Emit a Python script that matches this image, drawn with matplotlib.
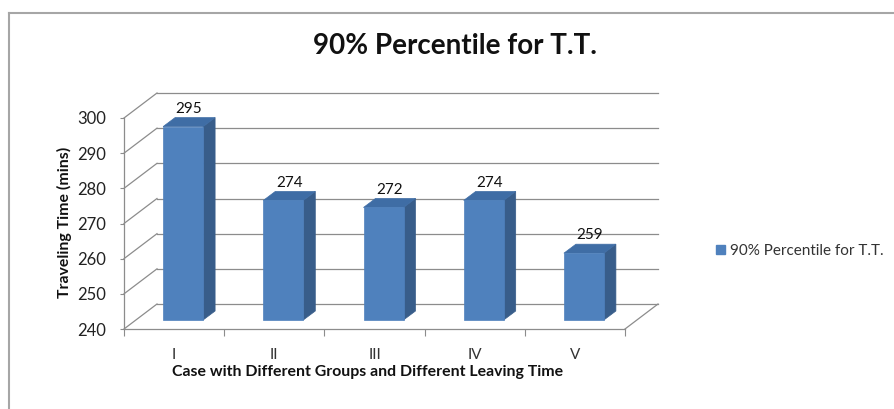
import matplotlib.pyplot as plt
from matplotlib.patches import Polygon, Patch
from matplotlib.lines import Line2D

plt.rcParams['font.family'] = ['Lato', 'DejaVu Sans']

# Chart data
cases = ['I', 'II', 'III', 'IV', 'V']
pct90 = [295, 274, 272, 274, 259]
series_name = '90% Percentile for T.T.'
y_ticks = [240, 250, 260, 270, 280, 290, 300]

W, H = 894, 409
fig = plt.figure(figsize=(W / 100, H / 100), dpi=100)

# front plane of the plot area in pixels (left, top, right, bottom)
L, T, R, B = 124, 118, 625, 329
ax = fig.add_axes([L / W, (H - B) / H, (R - L) / W, (B - T) / H])
ymin, ymax = 240, 300
ax.set_xlim(0, len(cases))
ax.set_ylim(ymin, ymax)

# pixel -> data unit helpers for the fake depth
px_x = len(cases) / (R - L)
px_y = (ymax - ymin) / (B - T)

grid_c = '#8c8c8c'
wall_dx, wall_dy = 33 * px_x, 25 * px_y

# back wall gridlines and the diagonal side lines
for v in y_ticks:
    ax.add_line(Line2D([0, wall_dx], [v, v + wall_dy], color=grid_c, lw=0.9, clip_on=False))
    ax.add_line(Line2D([wall_dx, len(cases) + wall_dx], [v + wall_dy, v + wall_dy],
                       color=grid_c, lw=0.9, clip_on=False))
# floor right edge
ax.add_line(Line2D([len(cases), len(cases) + wall_dx], [ymin, ymin + wall_dy],
                   color=grid_c, lw=0.9, clip_on=False))

# 3D-looking bars
off_x, off_y = 9 * px_x, 9 * px_y
dep_x, dep_y = 12 * px_x, 9 * px_y
bw = 40 * px_x
front_c, side_c, top_c = '#4F81BD', '#385D8A', '#3F6DA5'
for i, v in enumerate(pct90):
    x0 = i + 0.5 - bw / 2 + off_x
    x1 = x0 + bw
    y0 = ymin + off_y
    front = [(x0, y0), (x1, y0), (x1, v + off_y), (x0, v + off_y)]
    side = [(x1, y0), (x1 + dep_x, y0 + dep_y), (x1 + dep_x, v + off_y + dep_y), (x1, v + off_y)]
    top = [(x0, v + off_y), (x1, v + off_y), (x1 + dep_x, v + off_y + dep_y), (x0 + dep_x, v + off_y + dep_y)]
    for pts, c in ((side, side_c), (top, top_c), (front, front_c)):
        ax.add_patch(Polygon(pts, closed=True, facecolor=c, edgecolor=c, lw=0.5,
                             clip_on=False, zorder=3))
    ax.text((x0 + x1 + dep_x) / 2, v + off_y + dep_y + 0.5, str(v), ha='center', va='bottom',
            fontsize=11, color='#111111', zorder=4)

# axes styling
for s in ('top', 'right'):
    ax.spines[s].set_visible(False)
for s in ('left', 'bottom'):
    ax.spines[s].set_color(grid_c)
    ax.spines[s].set_linewidth(0.9)
ax.set_facecolor('none')
ax.set_yticks(y_ticks)
ax.set_yticklabels([str(t) for t in y_ticks], fontsize=12, color='#222222')
ax.tick_params(axis='y', length=3, color=grid_c, pad=10)
ax.set_xticks(range(len(cases) + 1))
ax.set_xticklabels([])
ax.set_xticks([i + 0.5 for i in range(len(cases))], minor=True)
ax.set_xticklabels(cases, minor=True, fontsize=11, color='#333333')
ax.tick_params(axis='x', which='major', length=5, color=grid_c)
ax.tick_params(axis='x', which='minor', length=0, pad=14)

# titles
fig.text(455 / W, 1 - 46 / H, '90% Percentile for T.T.', ha='center', va='center',
         fontsize=20, fontweight='bold', color='#111111')
fig.text(368 / W, 1 - 372 / H, 'Case with Different Groups and Different Leaving Time',
         ha='center', va='center', fontsize=11.4, fontweight='bold', color='#111111')
fig.text(64 / W, 1 - 222 / H, 'Traveling Time (mins)', ha='center', va='center',
         rotation=90, fontsize=11.4, fontweight='bold', color='#111111')

# legend
fig.legend(handles=[Patch(facecolor=front_c, edgecolor=front_c, label=series_name)],
           loc='center left', bbox_to_anchor=(716 / W, 1 - 251 / H), frameon=False,
           handlelength=0.6, handleheight=0.6, handletextpad=0.3, borderaxespad=0,
           borderpad=0, prop={'size': 11}, labelcolor='#333333')

# chart area frame
fig.add_artist(Line2D([8.5 / W, 8.5 / W], [0, 1 - 13 / H], color='#a6a6a6', lw=1.5,
                      transform=fig.transFigure))
fig.add_artist(Line2D([8.5 / W, 1], [1 - 13 / H, 1 - 13 / H], color='#a6a6a6', lw=1.5,
                      transform=fig.transFigure))

fig.savefig('out.png', dpi=100, facecolor='white')
